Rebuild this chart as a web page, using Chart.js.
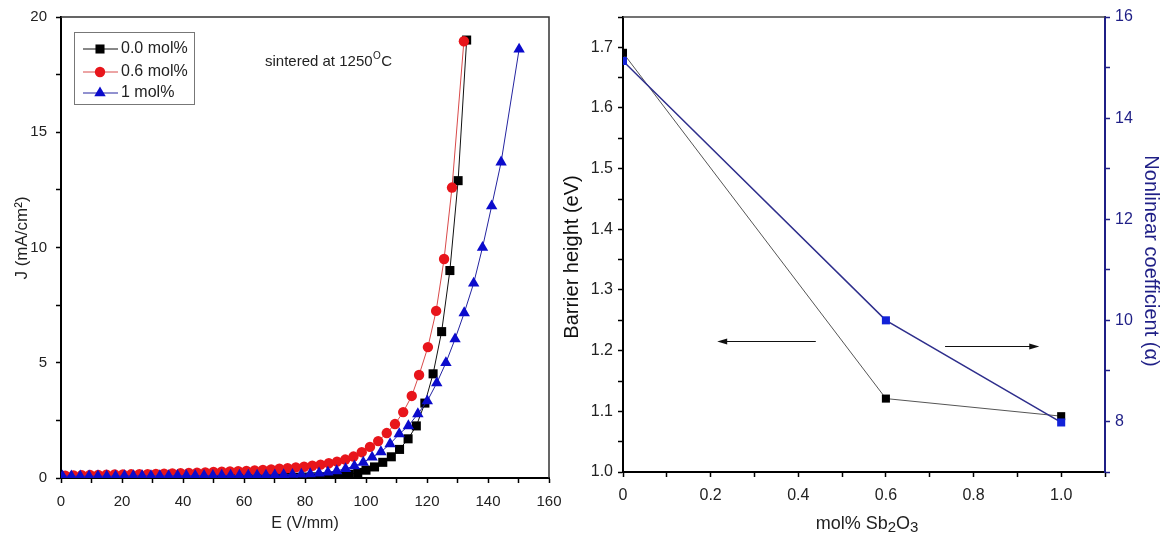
<!DOCTYPE html>
<html>
<head>
<meta charset="utf-8">
<script src="https://cdn.jsdelivr.net/npm/chart.js@4.4.1/dist/chart.umd.min.js"></script>
<style>
  body { margin: 0; background: #fff; }
  #left { position: absolute; left: 0; top: 0; }
  #right { position: absolute; left: 560px; top: 0; }
</style>
</head>
<body>
<canvas id="left" width="576" height="535"></canvas>
<canvas id="right" width="601" height="535"></canvas>
<script>
// J-E curves
const e00 = [1.0, 3.8, 6.5, 9.2, 12.0, 14.8, 17.5, 20.3, 23.0, 25.8, 28.5, 31.3, 34.0, 36.8, 39.5, 42.3, 45.0, 47.8, 50.5, 53.3, 56.0, 58.8, 61.5, 64.3, 67.0, 69.8, 72.5, 75.3, 78.0, 80.8, 83.5, 86.3, 89.0, 91.8, 94.5, 97.3, 100.0, 102.8, 105.5, 108.3, 111.0, 113.8, 116.5, 119.3, 122.0, 124.8, 127.5, 130.2, 133.0];
const j00 = [0.01, 0.01, 0.01, 0.01, 0.01, 0.01, 0.01, 0.01, 0.01, 0.01, 0.01, 0.01, 0.01, 0.01, 0.01, 0.01, 0.01, 0.01, 0.02, 0.02, 0.02, 0.02, 0.02, 0.02, 0.02, 0.03, 0.03, 0.03, 0.03, 0.04, 0.05, 0.06, 0.08, 0.11, 0.16, 0.24, 0.34, 0.48, 0.68, 0.92, 1.24, 1.70, 2.26, 3.25, 4.52, 6.35, 9.0, 12.9, 19.0];

const e06 = [1.4, 4.1, 6.8, 9.5, 12.2, 14.9, 17.6, 20.3, 23.0, 25.7, 28.4, 31.1, 33.8, 36.5, 39.2, 41.9, 44.6, 47.3, 50.0, 52.7, 55.4, 58.1, 60.8, 63.5, 66.2, 68.9, 71.6, 74.3, 77.0, 79.7, 82.4, 85.1, 87.8, 90.5, 93.2, 95.9, 98.6, 101.3, 104.0, 106.8, 109.5, 112.2, 115.0, 117.4, 120.3, 123.0, 125.6, 128.2, 132.1];
const j06 = [0.10, 0.11, 0.12, 0.13, 0.13, 0.14, 0.15, 0.15, 0.16, 0.17, 0.17, 0.18, 0.19, 0.20, 0.21, 0.22, 0.23, 0.24, 0.26, 0.27, 0.28, 0.30, 0.31, 0.33, 0.35, 0.37, 0.40, 0.43, 0.46, 0.49, 0.53, 0.58, 0.64, 0.71, 0.80, 0.93, 1.12, 1.35, 1.60, 1.95, 2.34, 2.86, 3.56, 4.47, 5.68, 7.25, 9.5, 12.6, 18.95];

const e10 = [0.5, 3.4, 6.3, 9.2, 12.1, 15.0, 17.9, 20.8, 23.7, 26.6, 29.5, 32.4, 35.3, 38.2, 41.1, 44.0, 46.9, 49.8, 52.7, 55.6, 58.5, 61.4, 64.3, 67.2, 70.1, 73.0, 75.9, 78.8, 81.7, 84.6, 87.5, 90.4, 93.3, 96.2, 99.1, 102.0, 104.9, 107.9, 110.9, 113.9, 117.0, 120.1, 123.2, 126.2, 129.2, 132.2, 135.3, 138.2, 141.2, 144.3, 150.2];
const j10 = [0.08, 0.08, 0.08, 0.08, 0.08, 0.08, 0.08, 0.09, 0.09, 0.09, 0.09, 0.09, 0.09, 0.10, 0.10, 0.10, 0.10, 0.10, 0.11, 0.11, 0.11, 0.12, 0.12, 0.12, 0.13, 0.14, 0.15, 0.16, 0.18, 0.21, 0.25, 0.31, 0.40, 0.52, 0.68, 0.90, 1.13, 1.48, 1.91, 2.26, 2.78, 3.34, 4.12, 5.00, 6.03, 7.16, 8.45, 10.0, 11.8, 13.7, 18.6];

const seriesNames = ["0.0 mol%", "0.6 mol%", "1 mol%"];

// barrier height / nonlinear coefficient vs Sb2O3 content
const molPct = [0, 0.6, 1.0];
const barrier = [1.691, 1.121, 1.092];
const alpha = [15.13, 10.0, 7.98];

const toXY = (xs, ys) => xs.map((x, i) => ({ x: x, y: ys[i] }));

const FONT = '"Liberation Sans", Arial, sans-serif';
Chart.defaults.font.family = FONT;
Chart.defaults.color = "#222";

const NAVY = "#1f1f86";

// fixed axis boxes so the plot areas land where the reference has them
function fixBox(size) {
  return (scale) => {
    if (scale.isHorizontal()) scale.height = size;
    else scale.width = size;
    scale.paddingLeft = scale.paddingRight = scale.paddingTop = scale.paddingBottom = 0;
  };
}

function marker(ctx, style, x, y, r, color) {
  ctx.fillStyle = color;
  ctx.beginPath();
  if (style === "rect") {
    const s = Math.SQRT1_2 * r;
    ctx.rect(x - s, y - s, 2 * s, 2 * s);
  } else if (style === "circle") {
    ctx.arc(x, y, r, 0, Math.PI * 2);
  } else {
    const dx = Math.cos(Math.PI / 6) * r;
    ctx.moveTo(x, y - r);
    ctx.lineTo(x + dx, y + r / 2);
    ctx.lineTo(x - dx, y + r / 2);
    ctx.closePath();
  }
  ctx.fill();
}

function vText(ctx, text, x, y, angle, size, color) {
  ctx.save();
  ctx.translate(x, y);
  ctx.rotate(angle);
  ctx.font = size + "px " + FONT;
  ctx.fillStyle = color;
  ctx.textAlign = "center";
  ctx.textBaseline = "middle";
  ctx.fillText(text, 0, 0);
  ctx.restore();
}

// frame, legend, y title and note for the J-E plot
const leftDecor = {
  id: "leftDecor",
  afterDraw(chart) {
    const { ctx, chartArea: a } = chart;
    ctx.save();
    ctx.strokeStyle = "#333";
    ctx.lineWidth = 1.5;
    ctx.beginPath();
    ctx.moveTo(a.left, a.top);
    ctx.lineTo(a.right, a.top);
    ctx.lineTo(a.right, a.bottom);
    ctx.stroke();

    vText(ctx, "J (mA/cm²)", 22, 238, -Math.PI / 2, 17, "#222");

    // legend box
    ctx.strokeStyle = "#777";
    ctx.lineWidth = 1;
    ctx.strokeRect(74.5, 32.5, 120, 72);
    ctx.font = "16px " + FONT;
    ctx.textBaseline = "middle";
    const rows = [49, 72, 93];
    chart.data.datasets.forEach((ds, i) => {
      const y = rows[i];
      ctx.strokeStyle = ds.borderColor;
      ctx.lineWidth = 1;
      ctx.beginPath();
      ctx.moveTo(83, y);
      ctx.lineTo(118, y);
      ctx.stroke();
      marker(ctx, ds.pointStyle, 100, y, ds.pointRadius, ds.pointBackgroundColor);
      ctx.fillStyle = "#222";
      ctx.fillText(ds.label, 121, y);
    });

    // note
    ctx.fillStyle = "#222";
    ctx.font = "15px " + FONT;
    ctx.textBaseline = "alphabetic";
    let x = 265;
    const base = 66;
    const t1 = "sintered at 1250";
    ctx.fillText(t1, x, base);
    x += ctx.measureText(t1).width + 0.5;
    ctx.font = "10px " + FONT;
    ctx.fillText("O", x, base - 7);
    x += ctx.measureText("O").width + 0.5;
    ctx.font = "15px " + FONT;
    ctx.fillText("C", x, base);
    ctx.restore();
  }
};

new Chart(document.getElementById("left"), {
  type: "line",
  data: {
    datasets: [
      {
        label: seriesNames[0], data: toXY(e00, j00), order: 2,
        borderColor: "#111", borderWidth: 1,
        pointStyle: "rect", pointRadius: 6.4, pointBackgroundColor: "#000", pointBorderWidth: 0
      },
      {
        label: seriesNames[1], data: toXY(e06, j06), order: 1,
        borderColor: "#d94a4a", borderWidth: 1,
        pointStyle: "circle", pointRadius: 5.2, pointBackgroundColor: "#e8151b", pointBorderWidth: 0
      },
      {
        label: seriesNames[2], data: toXY(e10, j10), order: 0,
        borderColor: "#2424a0", borderWidth: 1,
        pointStyle: "triangle", pointRadius: 6.6, pointBackgroundColor: "#0b0bcc", pointBorderWidth: 0
      }
    ]
  },
  options: {
    responsive: false,
    animation: false,
    layout: { padding: { top: 17, right: 27, left: 0, bottom: 0 } },
    plugins: { legend: { display: false }, tooltip: { enabled: false } },
    scales: {
      x: {
        type: "linear", min: 0, max: 160,
        ticks: {
          stepSize: 10, autoSkip: false, maxRotation: 0, padding: 10, color: "#222",
          font: { size: 15 },
          callback: (v) => (v % 20 === 0 ? String(v) : "")
        },
        grid: { drawOnChartArea: false, tickLength: 5, tickColor: "#000", tickWidth: 1.5 },
        border: { color: "#000", width: 2 },
        title: { display: true, text: "E (V/mm)", font: { size: 16 }, padding: { top: 0, bottom: 2 }, color: "#222" },
        afterFit: fixBox(57)
      },
      y: {
        type: "linear", min: 0, max: 20,
        ticks: {
          stepSize: 2.5, autoSkip: false, padding: 9, color: "#222",
          font: { size: 15 },
          callback: (v) => (v % 5 === 0 ? String(v) : "")
        },
        grid: { drawOnChartArea: false, tickLength: 5, tickColor: "#000", tickWidth: 1.5 },
        border: { color: "#000", width: 2 },
        title: { display: false },
        afterFit: fixBox(61)
      }
    }
  },
  plugins: [leftDecor]
});

// top frame line, titles and the two arrows
const rightDecor = {
  id: "rightDecor",
  afterDraw(chart) {
    const { ctx, chartArea: a, scales } = chart;
    ctx.save();
    ctx.strokeStyle = "#444";
    ctx.lineWidth = 1.5;
    ctx.beginPath();
    ctx.moveTo(a.left, a.top);
    ctx.lineTo(a.right, a.top);
    ctx.stroke();

    vText(ctx, "Barrier height (eV)", 12, 257, -Math.PI / 2, 20, "#111");
    vText(ctx, "Nonlinear coefficient (α)", 591, 261, Math.PI / 2, 20, NAVY);

    // x title with lowered digits
    const parts = [["mol% Sb", 18, 0], ["2", 15, 3], ["O", 18, 0], ["3", 15, 3]];
    let w = 0;
    parts.forEach((p) => { ctx.font = p[1] + "px " + FONT; w += ctx.measureText(p[0]).width; });
    let x = (a.left + a.right) / 2 + 3 - w / 2;
    ctx.fillStyle = "#222";
    ctx.textBaseline = "alphabetic";
    parts.forEach((p) => {
      ctx.font = p[1] + "px " + FONT;
      ctx.fillText(p[0], x, 529 + p[2]);
      x += ctx.measureText(p[0]).width;
    });

    const arrow = (x0, x1, y) => {
      const px0 = scales.x.getPixelForValue(x0);
      const px1 = scales.x.getPixelForValue(x1);
      const dir = Math.sign(px1 - px0);
      ctx.strokeStyle = "#111";
      ctx.fillStyle = "#111";
      ctx.lineWidth = 1;
      ctx.beginPath();
      ctx.moveTo(px0, y);
      ctx.lineTo(px1 - dir * 8, y);
      ctx.stroke();
      ctx.beginPath();
      ctx.moveTo(px1, y);
      ctx.lineTo(px1 - dir * 10, y - 3);
      ctx.lineTo(px1 - dir * 10, y + 3);
      ctx.closePath();
      ctx.fill();
    };
    arrow(0.44, 0.215, Math.round(scales.y.getPixelForValue(1.216)) + 0.5);
    arrow(0.735, 0.95, Math.round(scales.y1.getPixelForValue(9.49)) + 0.5);
    ctx.restore();
  }
};

new Chart(document.getElementById("right"), {
  type: "line",
  data: {
    datasets: [
      {
        label: "Barrier height", data: toXY(molPct, barrier), yAxisID: "y", order: 1,
        borderColor: "#555", borderWidth: 1, clip: 0,
        pointStyle: "rect", pointRadius: 5.7, pointBackgroundColor: "#000", pointBorderWidth: 0
      },
      {
        label: "Nonlinear coefficient", data: toXY(molPct, alpha), yAxisID: "y1", order: 0,
        borderColor: "#2e2e8c", borderWidth: 1.5, clip: 0,
        pointStyle: "rect", pointRadius: 5.7, pointBackgroundColor: "#1222d8", pointBorderWidth: 0
      }
    ]
  },
  options: {
    responsive: false,
    animation: false,
    layout: { padding: { top: 17, right: 0, left: 0, bottom: 0 } },
    plugins: { legend: { display: false }, tooltip: { enabled: false } },
    scales: {
      x: {
        type: "linear", min: 0, max: 1.1,
        ticks: {
          stepSize: 0.1, autoSkip: false, maxRotation: 0, padding: 9, color: "#222",
          font: { size: 16 },
          callback: (v) => {
            const r = Math.round(v * 10);
            if (r % 2 !== 0) return "";
            return r === 0 ? "0" : (r / 10).toFixed(1);
          }
        },
        grid: { drawOnChartArea: false, tickLength: 5, tickColor: "#000", tickWidth: 1.5 },
        border: { color: "#000", width: 2 },
        title: { display: false },
        afterFit: fixBox(63)
      },
      y: {
        type: "linear", position: "left", min: 1.0, max: 1.75,
        ticks: {
          stepSize: 0.05, autoSkip: false, padding: 5, color: "#222",
          font: { size: 16 },
          callback: (v) => {
            const r = Math.round(v * 100);
            return r % 10 === 0 ? (r / 100).toFixed(1) : "";
          }
        },
        grid: { drawOnChartArea: false, tickLength: 5, tickColor: "#000", tickWidth: 1.5 },
        border: { color: "#000", width: 2 },
        title: { display: false },
        afterFit: fixBox(63)
      },
      y1: {
        type: "linear", position: "right", min: 7, max: 16,
        ticks: {
          stepSize: 1, autoSkip: false, padding: 5, color: NAVY,
          font: { size: 16 },
          callback: (v) => (v % 2 === 0 ? String(v) : "")
        },
        grid: { drawOnChartArea: false, tickLength: 5, tickColor: NAVY, tickWidth: 1.5 },
        border: { color: NAVY, width: 2 },
        title: { display: false },
        afterFit: fixBox(56)
      }
    }
  },
  plugins: [rightDecor]
});
</script>
</body>
</html>
